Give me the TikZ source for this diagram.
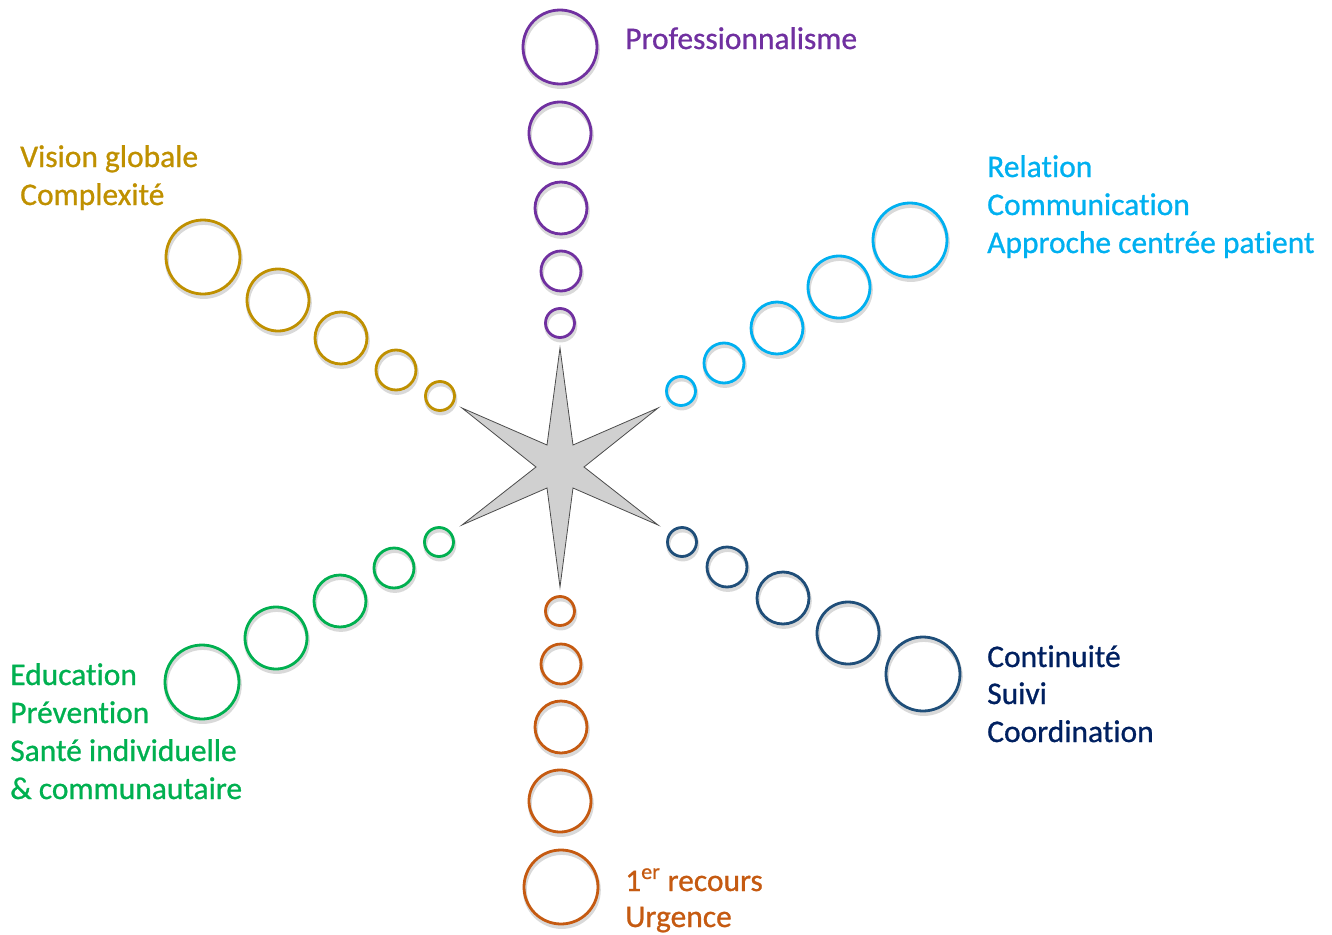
\documentclass[tikz,border=0pt]{standalone}
\usepackage{fontspec}
\setmainfont[Ligatures={NoCommon,NoRequired,NoContextual}, FakeBold=0.8]{Carlito}
\definecolor{purp}{HTML}{7030A0}
\definecolor{gold}{HTML}{BF9000}
\definecolor{lblue}{HTML}{00B0F0}
\definecolor{dblue}{HTML}{1F4E79}
\definecolor{navy}{HTML}{002060}
\definecolor{grn}{HTML}{00B050}
\definecolor{orng}{HTML}{C55A11}
\definecolor{stargray}{HTML}{D0D0D0}
\begin{document}
\begin{tikzpicture}[x=0.75pt,y=-0.75pt,
  ring/.style={circle, draw=#1, line width=2.1pt, inner sep=0pt,
    preaction={draw=black, draw opacity=0.15, line width=3pt,
      transform canvas={shift={(0.6pt,-2.2pt)}}}},
  s1/.style={minimum size=55.5pt},
  s2/.style={minimum size=46.5pt},
  s3/.style={minimum size=39pt},
  s4/.style={minimum size=30pt},
  s5/.style={minimum size=21.75pt},
  lbl/.style={anchor=base west, inner sep=0pt, font=\fontsize{23.6}{28}\selectfont, text=#1},
  starst/.style={fill=stargray, draw=black!70, line width=0.6pt, line join=miter}]
\useasboundingbox (0,0) rectangle (1332,935);
% star
\draw[starst] (560,348) -- (573,445) -- (658,408) -- (584,467) -- (658,525) -- (573,488)
  -- (560,587) -- (547,488) -- (462,525) -- (536,467) -- (462,408) -- (547,445) -- cycle;
% purple
\node[ring=purp,s1] (p1) at (560,47) {};
\node[ring=purp,s2] (p2) at (560,133) {};
\node[ring=purp,s3] (p3) at (561,208) {};
\node[ring=purp,s4] (p4) at (561,271) {};
\node[ring=purp,s5] (p5) at (560,323) {};
% light blue
\node[ring=lblue,s1] (b1) at (910,240) {};
\node[ring=lblue,s2] (b2) at (839,287) {};
\node[ring=lblue,s3] (b3) at (777,328) {};
\node[ring=lblue,s4] (b4) at (724,363) {};
\node[ring=lblue,s5] (b5) at (681,391) {};
% dark blue
\node[ring=dblue,s1] (d1) at (923,674) {};
\node[ring=dblue,s2] (d2) at (848,633) {};
\node[ring=dblue,s3] (d3) at (783,598) {};
\node[ring=dblue,s4] (d4) at (727,567) {};
\node[ring=dblue,s5] (d5) at (682,542) {};
% orange
\node[ring=orng,s1] (o1) at (561,887) {};
\node[ring=orng,s2] (o2) at (560,801) {};
\node[ring=orng,s3] (o3) at (561,727) {};
\node[ring=orng,s4] (o4) at (561,664) {};
\node[ring=orng,s5] (o5) at (560,611) {};
% green
\node[ring=grn,s1] (g1) at (202,682) {};
\node[ring=grn,s2] (g2) at (276,638) {};
\node[ring=grn,s3] (g3) at (340,601) {};
\node[ring=grn,s4] (g4) at (394,568) {};
\node[ring=grn,s5] (g5) at (439,542) {};
% gold
\node[ring=gold,s1] (y1) at (203,257) {};
\node[ring=gold,s2] (y2) at (278,300) {};
\node[ring=gold,s3] (y3) at (341,338) {};
\node[ring=gold,s4] (y4) at (396,370) {};
\node[ring=gold,s5] (y5) at (440,396) {};
% labels
\node[lbl=purp] (tp) at (625,49) {Professionnalisme};
\node[lbl=lblue] (tb1) at (987,177) {Relation};
\node[lbl=lblue] (tb2) at (987,215) {Communication};
\node[lbl=lblue] (tb3) at (987,253) {Approche centrée patient};
\node[lbl=gold] (ty1) at (20,167) {Vision globale};
\node[lbl=gold] (ty2) at (20,205) {Complexité};
\node[lbl=navy] (td1) at (987,667) {Continuité};
\node[lbl=navy] (td2) at (987,704) {Suivi};
\node[lbl=navy] (td3) at (987,742) {Coordination};
\node[lbl=grn] (tg1) at (10,685) {Education};
\node[lbl=grn] (tg2) at (10,723) {Prévention};
\node[lbl=grn] (tg3) at (10,761) {Santé individuelle};
\node[lbl=grn] (tg4) at (10,799) {\& communautaire};
\node[lbl=orng] (to1) at (625,891) {1\textsuperscript{er} recours};
\node[lbl=orng] (to2) at (625,927) {Urgence};
\end{tikzpicture}
\end{document}
